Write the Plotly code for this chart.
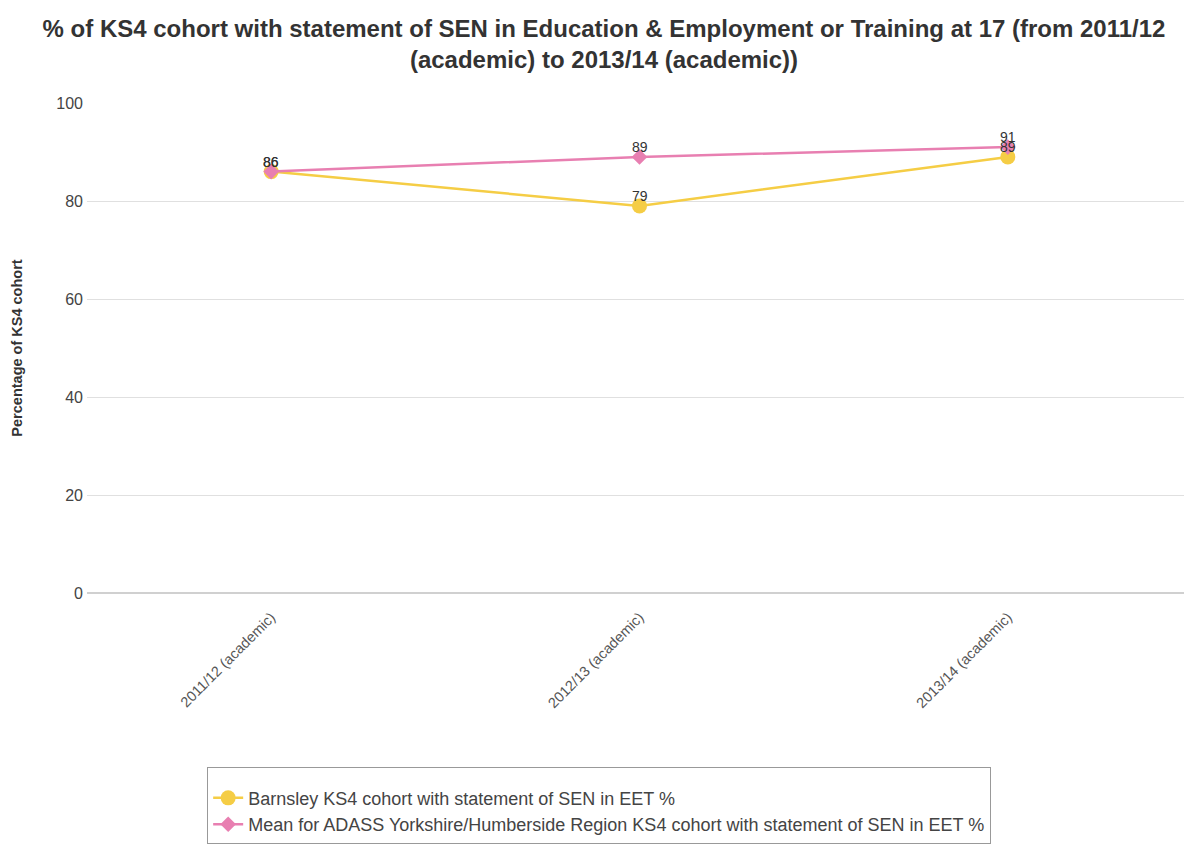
import plotly.graph_objects as go

categories = ["2011/12 (academic)", "2012/13 (academic)", "2013/14 (academic)"]
barnsley = [86, 79, 89]
mean_region = [86, 89, 91]
series_names = [
    "Barnsley KS4 cohort with statement of SEN in EET %",
    "Mean for ADASS Yorkshire/Humberside Region KS4 cohort with statement of SEN in EET %",
]
title = "% of KS4 cohort with statement of SEN in Education & Employment or Training at 17 (from 2011/12<br>(academic) to 2013/14 (academic))"

YELLOW = "#f5cd45"
PINK = "#e87fb1"
FONT = "Liberation Sans, Arial, sans-serif"

fig = go.Figure()
fig.add_trace(go.Scatter(
    x=categories, y=barnsley, name=series_names[0], mode="lines+markers",
    line=dict(color=YELLOW, width=2.5),
    marker=dict(symbol="circle", size=15, color=YELLOW),
))
fig.add_trace(go.Scatter(
    x=categories, y=mean_region, name=series_names[1], mode="lines+markers",
    line=dict(color=PINK, width=2.5),
    marker=dict(symbol="diamond", size=12, color=PINK),
))

for series in (barnsley, mean_region):
    for c, v in zip(categories, series):
        fig.add_annotation(x=c, y=v, text=str(v), showarrow=False,
                           yanchor="middle", yshift=10,
                           font=dict(size=14, color="#333", family=FONT))

fig.update_layout(
    width=1192, height=845,
    paper_bgcolor="white", plot_bgcolor="white",
    font=dict(family=FONT, color="#444"),
    title=dict(text=title, x=0.5, xanchor="center", y=0.966, yanchor="top",
               font=dict(size=24, color="#333", family=FONT, weight="bold")),
    margin=dict(l=75, r=8, t=95, b=260),
    showlegend=True,
    legend=dict(x=0.4635, xanchor="center", y=-0.355, yanchor="top",
                bordercolor="#999", borderwidth=1, bgcolor="white",
                title=dict(text=" ", font=dict(size=9)),
                font=dict(size=18, color="#444"), tracegroupgap=4),
    xaxis=dict(type="category", range=[-0.5, 2.5], tickangle=-45,
               tickfont=dict(size=14.5, color="#555"), showgrid=False,
               showline=False, ticks="", ticklabelstandoff=12),
    yaxis=dict(range=[0, 100], tickvals=[0, 20, 40, 60, 80, 100],
               tickfont=dict(size=16, color="#444"), gridcolor="#e0e0e0", gridwidth=1,
               zeroline=True, zerolinecolor="#d0d0d0", zerolinewidth=2,
               title=dict(text="<b>Percentage of KS4 cohort</b>", font=dict(size=14.5, color="#333"), standoff=30),
               ticklabelstandoff=3),
)

fig.write_html("out.html")
